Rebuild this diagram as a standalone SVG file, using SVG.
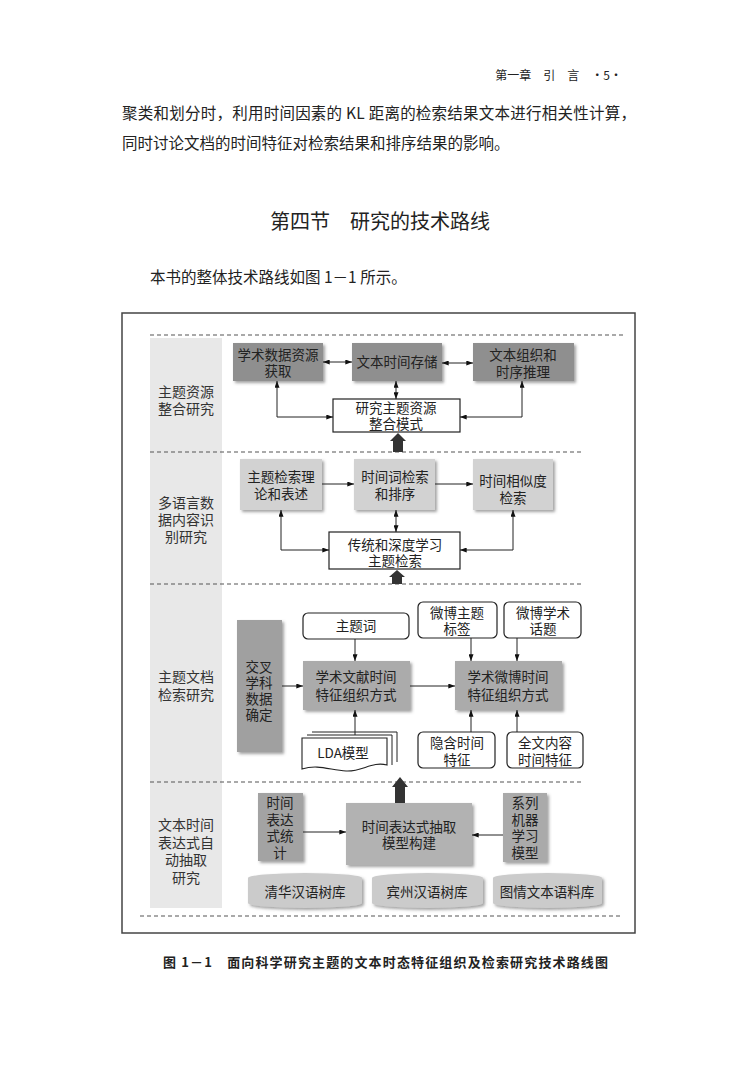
<svg xmlns="http://www.w3.org/2000/svg" width="750" height="1070" viewBox="0 0 750 1070">
<style>
  text{font-family:"Noto Sans CJK SC","Liberation Sans",sans-serif;fill:#222}
  .pg{font-size:15.5px}
  .n{font-size:13.5px;text-anchor:middle}
  .lab{font-size:14px;text-anchor:middle;fill:#333}
  .dash{stroke:#555;stroke-width:1.2;stroke-dasharray:4 3;fill:none}
  .dark{fill:#8f8f8f}
  .light{fill:#d2d2d2}
  .mid{fill:#ababab}
  .wbox{fill:#fff;stroke:#222;stroke-width:1.2}
  .rbox{fill:#fff;stroke:#222;stroke-width:1.2}
  .c{stroke:#222;stroke-width:1;fill:none}
  .thick{fill:#333}
  .cyl{fill:#cbcbcb}
</style>
<defs>
  <filter id="sh" x="-10%" y="-10%" width="130%" height="140%">
    <feDropShadow dx="2" dy="2" stdDeviation="1.5" flood-color="#555" flood-opacity="0.55"/>
  </filter>
  <marker id="ah" viewBox="0 0 8 6" refX="8" refY="3" markerWidth="7" markerHeight="5" markerUnits="userSpaceOnUse" orient="auto-start-reverse">
    <path d="M0,0 L8,3 L0,6 Z" fill="#111"/>
  </marker>
</defs>
<rect width="750" height="1070" fill="#fff"/>

<!-- page text -->
<text x="622" y="80" style="font-size:12px;text-anchor:end">第一章　引　言　·5·</text>
<text class="pg" x="122" y="119" textLength="514" lengthAdjust="spacing">聚类和划分时，利用时间因素的 KL 距离的检索结果文本进行相关性计算，</text>
<text class="pg" x="122" y="149">同时讨论文档的时间特征对检索结果和排序结果的影响。</text>
<text x="270" y="229" style="font-size:20px" textLength="220" lengthAdjust="spacing">第四节　研究的技术路线</text>
<text class="pg" x="150" y="283">本书的整体技术路线如图 1－1 所示。</text>

<!-- frame and bands -->
<rect x="122" y="313" width="513" height="620" fill="#fff" stroke="#444" stroke-width="1.5"/>
<rect x="150" y="338" width="72" height="570" fill="#e8e8e8"/>
<line class="dash" x1="150" y1="335" x2="623" y2="335"/>
<line class="dash" x1="150" y1="452" x2="582" y2="452"/>
<line class="dash" x1="150" y1="584" x2="582" y2="584"/>
<line class="dash" x1="150" y1="782" x2="582" y2="782"/>
<line class="dash" x1="140" y1="916" x2="620" y2="916"/>

<!-- section labels -->
<g id="label1"><text class="lab" x="186" y="397"><tspan x="186">主题资源</tspan><tspan x="186" dy="17">整合研究</tspan></text></g>
<g id="label2"><text class="lab" x="186" y="508"><tspan x="186">多语言数</tspan><tspan x="186" dy="17">据内容识</tspan><tspan x="186" dy="17">别研究</tspan></text></g>
<g id="label3"><text class="lab" x="186" y="682"><tspan x="186">主题文档</tspan><tspan x="186" dy="18">检索研究</tspan></text></g>
<g id="label4"><text class="lab" x="186" y="830"><tspan x="186">文本时间</tspan><tspan x="186" dy="17.5">表达式自</tspan><tspan x="186" dy="17.5">动抽取</tspan><tspan x="186" dy="17.5">研究</tspan></text></g>

<!-- section 1 -->
<g id="n_acquire"><rect class="dark" x="233" y="343" width="90" height="38" filter="url(#sh)"/><text class="n" x="278" y="360"><tspan x="278">学术数据资源</tspan><tspan x="278" dy="16">获取</tspan></text></g>
<g id="n_store"><rect class="dark" x="352" y="343" width="90" height="38" filter="url(#sh)"/><text class="n" x="397" y="367">文本时间存储</text></g>
<g id="n_org"><rect class="dark" x="473" y="343" width="101" height="38" filter="url(#sh)"/><text class="n" x="523" y="360"><tspan x="523">文本组织和</tspan><tspan x="523" dy="17">时序推理</tspan></text></g>
<g id="n_mode"><rect class="wbox" x="333" y="399" width="127" height="33"/><text class="n" x="396" y="413"><tspan x="396">研究主题资源</tspan><tspan x="396" dy="16">整合模式</tspan></text></g>

<!-- section 2 -->
<g id="n_theory"><rect class="light" x="240" y="459" width="82" height="51" filter="url(#sh)"/><text class="n" x="281" y="482"><tspan x="281">主题检索理</tspan><tspan x="281" dy="17">论和表述</tspan></text></g>
<g id="n_rank"><rect class="light" x="354" y="459" width="81" height="51" filter="url(#sh)"/><text class="n" x="395" y="482"><tspan x="395">时间词检索</tspan><tspan x="395" dy="17">和排序</tspan></text></g>
<g id="n_sim"><rect class="light" x="473" y="459" width="80" height="51" filter="url(#sh)"/><text class="n" x="513" y="486"><tspan x="513">时间相似度</tspan><tspan x="513" dy="17">检索</tspan></text></g>
<g id="n_deep"><rect class="wbox" x="329" y="532" width="131" height="37"/><text class="n" x="395" y="550"><tspan x="395">传统和深度学习</tspan><tspan x="395" dy="16">主题检索</tspan></text></g>

<!-- section 3 -->
<g id="n_cross"><rect fill="#a0a0a0" x="237" y="620" width="45" height="132" filter="url(#sh)"/><text class="n" x="259" y="672"><tspan x="259">交叉</tspan><tspan x="259" dy="16">学科</tspan><tspan x="259" dy="16">数据</tspan><tspan x="259" dy="16">确定</tspan></text></g>
<g id="n_topic"><rect class="rbox" x="303" y="613" width="106" height="26" rx="5"/><text class="n" x="356" y="631">主题词</text></g>
<g id="n_lit"><rect class="mid" x="303" y="661" width="107" height="49" filter="url(#sh)"/><text class="n" x="356" y="682"><tspan x="356">学术文献时间</tspan><tspan x="356" dy="18">特征组织方式</tspan></text></g>
<g id="n_lda">
  <path d="M312,732 H397 V762" fill="#fff" stroke="#222" stroke-width="1"/>
  <path d="M307,735 H392 V765" fill="#fff" stroke="#222" stroke-width="1"/>
  <path d="M302,738 H387 V765 C372,761 362,772 346,771 C330,770 318,764 302,769 Z" fill="#fff" stroke="#222" stroke-width="1.1"/>
  <text class="n" x="343" y="758">LDA模型</text>
</g>
<g id="n_wtag"><rect class="rbox" x="418" y="602" width="79" height="36" rx="5"/><text class="n" x="457" y="618"><tspan x="457">微博主题</tspan><tspan x="457" dy="16">标签</tspan></text></g>
<g id="n_wtopic"><rect class="rbox" x="504" y="602" width="77" height="36" rx="5"/><text class="n" x="543" y="618"><tspan x="543">微博学术</tspan><tspan x="543" dy="16">话题</tspan></text></g>
<g id="n_weibo"><rect class="mid" x="455" y="661" width="107" height="49" filter="url(#sh)"/><text class="n" x="508" y="682"><tspan x="508">学术微博时间</tspan><tspan x="508" dy="18">特征组织方式</tspan></text></g>
<g id="n_hidden"><rect class="rbox" x="418" y="732" width="77" height="36" rx="5"/><text class="n" x="457" y="748"><tspan x="457">隐含时间</tspan><tspan x="457" dy="17">特征</tspan></text></g>
<g id="n_full"><rect class="rbox" x="507" y="732" width="76" height="36" rx="5"/><text class="n" x="545" y="748"><tspan x="545">全文内容</tspan><tspan x="545" dy="17">时间特征</tspan></text></g>

<!-- section 4 -->
<g id="n_stat"><rect fill="#a3a3a3" x="258" y="793" width="45" height="68" filter="url(#sh)"/><text class="n" x="280" y="808"><tspan x="280">时间</tspan><tspan x="280" dy="16.7">表达</tspan><tspan x="280" dy="16.7">式统</tspan><tspan x="280" dy="16.7">计</tspan></text></g>
<g id="n_extract"><rect fill="#b2b2b2" x="346" y="803" width="126" height="62" filter="url(#sh)"/><text class="n" x="409" y="832"><tspan x="409">时间表达式抽取</tspan><tspan x="409" dy="16">模型构建</tspan></text></g>
<g id="n_ml"><rect fill="#aaaaaa" x="503" y="793" width="44" height="69" filter="url(#sh)"/><text class="n" x="525" y="808"><tspan x="525">系列</tspan><tspan x="525" dy="16.7">机器</tspan><tspan x="525" dy="16.7">学习</tspan><tspan x="525" dy="16.7">模型</tspan></text></g>
<g id="n_qh"><path class="cyl" d="M248,878 A57,5 0 0 1 362,878 V903 A57,5 0 0 1 248,903 Z" filter="url(#sh)"/><text class="n" x="305" y="897">清华汉语树库</text></g>
<g id="n_pz"><path class="cyl" d="M372,878 A55.5,5 0 0 1 483,878 V903 A55.5,5 0 0 1 372,903 Z" filter="url(#sh)"/><text class="n" x="427" y="897">宾州汉语树库</text></g>
<g id="n_tq"><path class="cyl" d="M493,878 A54.5,5 0 0 1 602,878 V903 A54.5,5 0 0 1 493,903 Z" filter="url(#sh)"/><text class="n" x="547" y="897">图情文本语料库</text></g>

<!-- connectors -->
<g id="connectors">
  <line class="c" x1="323" y1="362" x2="352" y2="362" marker-start="url(#ah)" marker-end="url(#ah)"/>
  <line class="c" x1="442" y1="363" x2="473" y2="363" marker-start="url(#ah)" marker-end="url(#ah)"/>
  <line class="c" x1="396" y1="381" x2="396" y2="399" marker-start="url(#ah)" marker-end="url(#ah)"/>
  <path class="c" d="M277,381 V417 H333" marker-start="url(#ah)" marker-end="url(#ah)"/>
  <path class="c" d="M522,381 V417 H460" marker-start="url(#ah)" marker-end="url(#ah)"/>
  <path class="thick" d="M398,433 L406,441 L403,441 L403,452 L393,452 L393,441 L390,441 Z"/>

  <line class="c" x1="322" y1="484" x2="354" y2="484" marker-end="url(#ah)"/>
  <line class="c" x1="435" y1="484" x2="473" y2="484" marker-end="url(#ah)"/>
  <line class="c" x1="396" y1="510" x2="396" y2="532" marker-start="url(#ah)" marker-end="url(#ah)"/>
  <path class="c" d="M281,510 V550 H329" marker-start="url(#ah)" marker-end="url(#ah)"/>
  <path class="c" d="M513,510 V550 H460" marker-start="url(#ah)" marker-end="url(#ah)"/>
  <path class="thick" d="M397,570 L405,577 L402,577 L402,584 L392,584 L392,577 L389,577 Z"/>

  <line class="c" x1="355" y1="639" x2="355" y2="661" marker-end="url(#ah)"/>
  <line class="c" x1="282" y1="686" x2="303" y2="686" marker-end="url(#ah)"/>
  <line class="c" x1="355" y1="735" x2="355" y2="710" marker-end="url(#ah)"/>
  <line class="c" x1="410" y1="686" x2="455" y2="686" marker-end="url(#ah)"/>
  <line class="c" x1="471" y1="638" x2="471" y2="661" marker-end="url(#ah)"/>
  <line class="c" x1="517" y1="638" x2="517" y2="661" marker-end="url(#ah)"/>
  <line class="c" x1="471" y1="732" x2="471" y2="710" marker-end="url(#ah)"/>
  <line class="c" x1="517" y1="732" x2="517" y2="710" marker-end="url(#ah)"/>
  <path class="thick" d="M400,777 L408,787 L405,787 L405,803 L395,803 L395,787 L392,787 Z"/>

  <line class="c" x1="303" y1="832" x2="346" y2="832" marker-end="url(#ah)"/>
  <line class="c" x1="503" y1="835" x2="472" y2="835" marker-end="url(#ah)"/>
</g>

<text x="163" y="967" style="font-size:13px;font-weight:bold" textLength="445" lengthAdjust="spacing">图 1－1　面向科学研究主题的文本时态特征组织及检索研究技术路线图</text>
</svg>
